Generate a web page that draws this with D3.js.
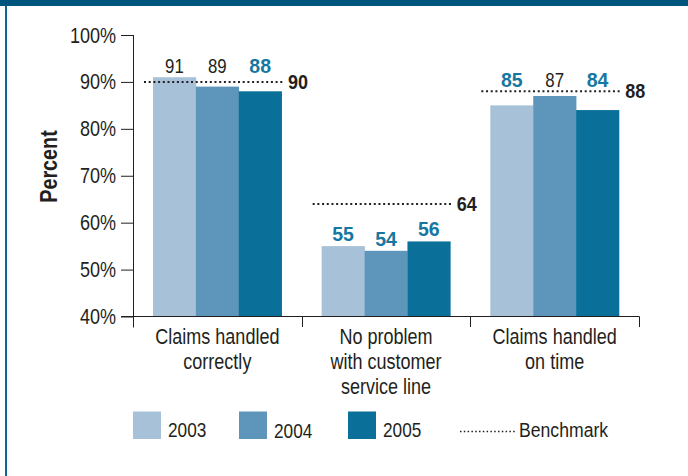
<!DOCTYPE html>
<html>
<head>
<meta charset="utf-8">
<script src="https://cdn.jsdelivr.net/npm/d3@7"></script>
<style>
  html, body { margin: 0; padding: 0; background: #ffffff; }
  svg { display: block; }
  text { font-family: "Liberation Sans", Arial, sans-serif; fill: #231f20; }
</style>
</head>
<body>
<svg id="chart" width="688" height="476"></svg>
<script>
// ---- data ----
const categories = [
  ["Claims handled", "correctly"],
  ["No problem", "with customer", "service line"],
  ["Claims handled", "on time"]
];
const years = ["2003", "2004", "2005"];
const values2003 = [91, 55, 85];
const values2004 = [89, 54, 87];
const values2005 = [88, 56, 84];
const highlight2003 = [false, true, true];
const highlight2004 = [false, true, false];
const highlight2005 = [true, true, true];
const benchmarks = [90, 64, 88];
const yTicks = [40, 50, 60, 70, 80, 90, 100];
const yTickLabels = ["40%", "50%", "60%", "70%", "80%", "90%", "100%"];
const yTitle = "Percent";
const benchmarkLabel = "Benchmark";

const colors = ["#a6c1d8", "#5e95ba", "#0b7099"];
const ink = "#231f20";
const highlightInk = "#1777a0";

const seriesValues = [values2003, values2004, values2005];
const seriesHighlight = [highlight2003, highlight2004, highlight2005];
const catKeys = categories.map((c, i) => "c" + i);

const svg = d3.select("#chart");

// horizontally condense a text element around its anchor x
function narrow(sel, sx) {
  sel.each(function () {
    const t = d3.select(this);
    const x = +t.attr("x") || 0;
    t.attr("transform", `translate(${x},0) scale(${sx},1) translate(${-x},0)`);
  });
}

// frame
svg.append("rect").attr("x", 0).attr("y", 0).attr("width", 688).attr("height", 6).attr("fill", "#00557f");
svg.append("rect").attr("x", 5).attr("y", 6).attr("width", 2).attr("height", 470).attr("fill", "#0d6694");

// scales
const y = d3.scaleLinear().domain([40, 100]).range([316.5, 35]);
const x0 = d3.scaleBand().domain(catKeys).range([133, 639]).padding(0);
const x1 = d3.scaleBand().domain(years).range([20, x0.bandwidth() - 20]).padding(0);

// y axis
const yAxis = d3.axisLeft(y).tickValues(yTicks).tickSize(12).tickPadding(5)
  .tickFormat((d, i) => yTickLabels[i]);
const gy = svg.append("g").attr("transform", "translate(133,0)").call(yAxis);
gy.select(".domain").remove();
gy.selectAll(".tick line").attr("stroke", ink);
gy.selectAll(".tick text").attr("font-size", 22).attr("fill", ink)
  .style("font-family", '"Liberation Sans", Arial, sans-serif')
  .call(narrow, 0.82);
svg.append("line").attr("x1", 133.5).attr("x2", 133.5).attr("y1", y(100)).attr("y2", y(40) + 11)
  .attr("stroke", ink);

// y title
svg.append("text").attr("transform", "translate(57,166.5) rotate(-90) scale(0.86,1)")
  .attr("text-anchor", "middle").attr("font-size", 23).attr("font-weight", "bold")
  .text(yTitle);

// bars
const groups = svg.append("g").selectAll("g").data(catKeys).join("g")
  .attr("transform", d => `translate(${x0(d)},0)`);

groups.each(function (key, ci) {
  const g = d3.select(this);
  const vals = years.map((yr, si) => ({ yr, si, v: seriesValues[si][ci], hl: seriesHighlight[si][ci] }));
  g.selectAll("rect").data(vals).join("rect")
    .attr("x", d => x1(d.yr))
    .attr("width", x1.bandwidth() + 0.3)
    .attr("y", d => y(d.v))
    .attr("height", d => y(40) - y(d.v))
    .attr("fill", d => colors[d.si]);

  const bm = benchmarks[ci];
  const gmax = d3.max(vals, d => d.v);
  const shared = (bm - gmax) <= 3;
  const sharedY = y(Math.max(bm, gmax)) - 4.5;
  g.selectAll("text.val").data(vals).join("text").attr("class", "val")
    .attr("x", d => x1(d.yr) + x1.bandwidth() / 2)
    .attr("y", d => shared ? sharedY : y(d.v) - 5)
    .attr("text-anchor", "middle")
    .attr("font-size", 21)
    .attr("font-weight", d => d.hl ? "bold" : "normal")
    .style("fill", d => d.hl ? highlightInk : ink)
    .text(d => d.v)
    .each(function (d) { narrow(d3.select(this), d.hl ? 0.93 : 0.8); });

  // benchmark line
  const bx0 = x1(years[0]) - 9;
  const bx1 = bx0 + 140;
  g.append("line").attr("x1", bx0).attr("x2", bx1).attr("y1", y(bm)).attr("y2", y(bm))
    .attr("stroke", ink).attr("stroke-width", 2).attr("stroke-dasharray", "2,2.7");
  g.append("text").attr("x", bx1 + 4).attr("y", y(bm) + 7)
    .attr("font-size", 20).attr("font-weight", "bold").text(bm)
    .call(narrow, 0.9);

  // category label
  const t = g.append("text").attr("x", x0.bandwidth() / 2).attr("y", 344)
    .attr("text-anchor", "middle").attr("font-size", 22);
  categories[ci].forEach((line, li) => {
    t.append("tspan").attr("x", x0.bandwidth() / 2).attr("y", 344 + li * 25).text(line);
  });
  narrow(t, 0.82);
});

// x axis
svg.append("line").attr("x1", 121).attr("x2", 639.5).attr("y1", 316.5).attr("y2", 316.5).attr("stroke", ink);
const bounds = catKeys.map(k => x0(k)).concat([x0.range()[1]]);
svg.append("g").selectAll("line").data(bounds.slice(1)).join("line")
  .attr("x1", d => Math.round(d) + 0.5).attr("x2", d => Math.round(d) + 0.5)
  .attr("y1", 316.5).attr("y2", 327).attr("stroke", ink);

// legend
const legendX = [133, 239, 348];
const legendTextDy = [0, 1.5, 0.5];
const lg = svg.append("g");
years.forEach((yr, i) => {
  lg.append("rect").attr("x", legendX[i]).attr("y", 411.5).attr("width", 28).attr("height", 27.5)
    .attr("fill", colors[i]);
  lg.append("text").attr("x", legendX[i] + 35).attr("y", 437 + legendTextDy[i]).attr("font-size", 21)
    .text(yr).call(narrow, 0.82);
});
lg.append("line").attr("x1", 460).attr("x2", 517).attr("y1", 431.5).attr("y2", 431.5)
  .attr("stroke", ink).attr("stroke-width", 1.5).attr("stroke-dasharray", "1.5,2.3");
lg.append("text").attr("x", 519).attr("y", 437).attr("font-size", 21).text(benchmarkLabel)
  .call(narrow, 0.84);
</script>
</body>
</html>
